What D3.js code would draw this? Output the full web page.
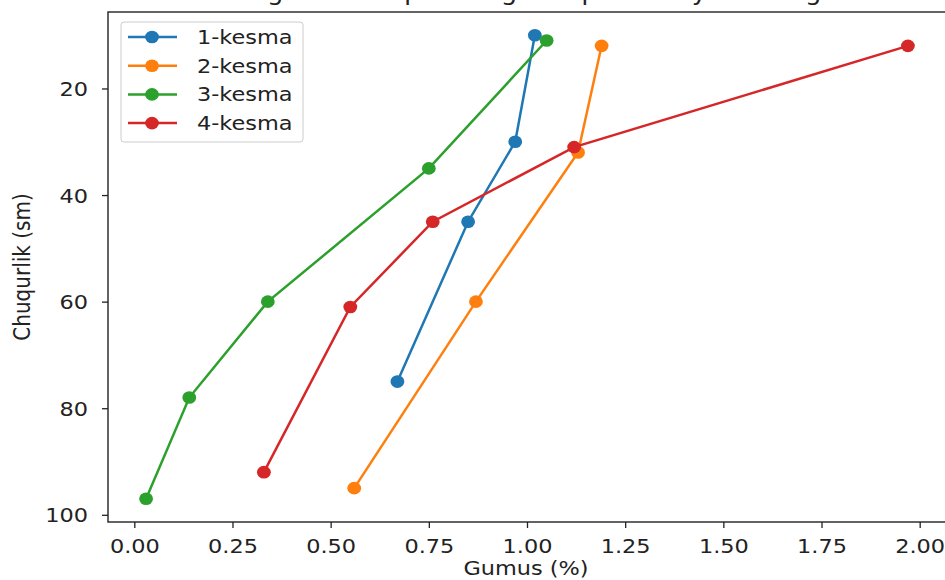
<!DOCTYPE html>
<html>
<head>
<meta charset="utf-8">
<script src="https://cdn.jsdelivr.net/npm/d3@7"></script>
<style>
  body { margin: 0; background: #fff; }
  svg { display: block; font-family: "DejaVu Sans", sans-serif; }
</style>
</head>
<body>
<div id="vis"></div>
<script>
// series names and colours
const seriesNames = ['1-kesma', '2-kesma', '3-kesma', '4-kesma'];
const colors = ['#1f77b4', '#ff7f0e', '#2ca02c', '#d62728'];

// gumus (%) and depth (sm) per series
const gumus1 = [1.02, 0.97, 0.85, 0.67];
const depth1 = [10, 30, 45, 75];
const gumus2 = [1.19, 1.13, 0.87, 0.56];
const depth2 = [12, 32, 60, 95];
const gumus3 = [1.05, 0.75, 0.34, 0.14, 0.03];
const depth3 = [11, 35, 60, 78, 97];
const gumus4 = [1.97, 1.12, 0.76, 0.55, 0.33];
const depth4 = [12, 31, 45, 61, 92];

const xTicks = [0, 0.25, 0.5, 0.75, 1, 1.25, 1.5, 1.75, 2];
const yTicks = [20, 40, 60, 80, 100];

const series = [
  [gumus1, depth1], [gumus2, depth2], [gumus3, depth3], [gumus4, depth4]
].map(([xs, ys], i) => ({
  name: seriesNames[i],
  color: colors[i],
  pts: xs.map((x, j) => ({ x: x, y: ys[j] }))
}));

const W = 945, H = 580;
const mLeft = 108, mRight = 946, mTop = 12, mBottom = 522;
const fs = 20;
const sx = 1.12; // the picture is a bit wider than tall

// matplotlib-style 5% margins
const allX = series.flatMap(s => s.pts.map(p => p.x));
const allY = series.flatMap(s => s.pts.map(p => p.y));
const xr = d3.extent(allX), yr = d3.extent(allY);
const xm = (xr[1] - xr[0]) * 0.05, ym = (yr[1] - yr[0]) * 0.05;

const x = d3.scaleLinear().domain([xr[0] - xm, xr[1] + xm]).range([mLeft, mRight]);
const y = d3.scaleLinear().domain([yr[0] - ym, yr[1] + ym]).range([mTop, mBottom]);

const svg = d3.select('#vis').append('svg')
  .attr('width', W).attr('height', H);

// move x/y into a transform and widen the glyphs
function stretch(sel) {
  sel.each(function() {
    const t = d3.select(this);
    const tx = +t.attr('x') || 0, ty = +t.attr('y') || 0;
    t.attr('x', 0).attr('y', 0)
      .attr('transform', `translate(${tx},${ty}) scale(${sx},1)`);
  });
}

// title, cut off at the top of the picture
svg.append('text')
  .attr('x', 470).attr('y', -0.5)
  .attr('text-anchor', 'middle')
  .attr('font-size', 23)
  .attr('fill', '#222')
  .text("Turli kesmalarda gumus miqdorining chuqurlik bo'yicha o'zgarishi")
  .call(stretch);

// x axis
const xAxis = svg.append('g')
  .attr('transform', `translate(0,${mBottom})`)
  .call(d3.axisBottom(x).tickValues(xTicks).tickFormat(d3.format('.2f')).tickSizeOuter(0).tickSize(6));
xAxis.select('.domain').remove();
xAxis.selectAll('line').attr('stroke', '#222').attr('stroke-width', 1.3);
xAxis.selectAll('text')
  .attr('y', 31).attr('dy', null)
  .attr('font-size', fs).attr('fill', '#222').attr('font-family', '"DejaVu Sans", sans-serif')
  .call(stretch);

// y axis
const yAxis = svg.append('g')
  .attr('transform', `translate(${mLeft},0)`)
  .call(d3.axisLeft(y).tickValues(yTicks).tickSizeOuter(0).tickSize(6));
yAxis.select('.domain').remove();
yAxis.selectAll('line').attr('stroke', '#222').attr('stroke-width', 1.3);
yAxis.selectAll('text')
  .attr('x', -20).attr('y', 7).attr('dy', null)
  .attr('font-size', fs).attr('fill', '#222').attr('font-family', '"DejaVu Sans", sans-serif')
  .call(stretch);

// spines
svg.append('rect')
  .attr('x', mLeft).attr('y', mTop)
  .attr('width', mRight - mLeft).attr('height', mBottom - mTop)
  .attr('fill', 'none').attr('stroke', '#222').attr('stroke-width', 1.4);

// axis labels
svg.append('text')
  .attr('x', 526).attr('y', 575)
  .attr('text-anchor', 'middle').attr('font-size', fs).attr('fill', '#222')
  .text('Gumus (%)')
  .call(stretch);
svg.append('text')
  .attr('transform', `translate(30,267) scale(${sx},1) rotate(-90)`)
  .attr('text-anchor', 'middle').attr('font-size', fs).attr('fill', '#222')
  .text('Chuqurlik (sm)');

// lines and markers
const line = d3.line().x(d => x(d.x)).y(d => y(d.y));
const plot = svg.append('g');
series.forEach(s => {
  const g = plot.append('g');
  g.append('path')
    .attr('d', line(s.pts))
    .attr('fill', 'none').attr('stroke', s.color).attr('stroke-width', 2.5);
  g.selectAll('ellipse').data(s.pts).enter().append('ellipse')
    .attr('cx', d => x(d.x)).attr('cy', d => y(d.y))
    .attr('rx', 6.9).attr('ry', 6.3).attr('fill', s.color);
});

// legend
const lg = svg.append('g').attr('transform', 'translate(121,22)');
lg.append('rect')
  .attr('width', 182).attr('height', 120).attr('rx', 3)
  .attr('fill', '#fff').attr('fill-opacity', 0.8)
  .attr('stroke', '#ccc').attr('stroke-width', 1);
series.forEach((s, i) => {
  const yy = 15 + i * 28.7;
  lg.append('line')
    .attr('x1', 7).attr('x2', 56).attr('y1', yy).attr('y2', yy)
    .attr('stroke', s.color).attr('stroke-width', 2.5);
  lg.append('ellipse').attr('cx', 31).attr('cy', yy).attr('rx', 6.9).attr('ry', 6.3).attr('fill', s.color);
  lg.append('text')
    .attr('x', 76).attr('y', yy + 7)
    .attr('font-size', fs).attr('fill', '#222')
    .text(s.name)
    .call(stretch);
});
</script>
</body>
</html>
